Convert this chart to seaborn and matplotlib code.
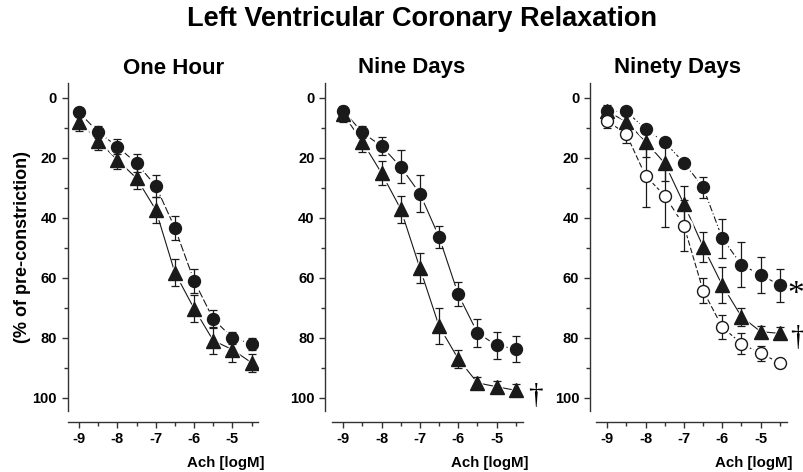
import matplotlib
matplotlib.use("Agg")
import matplotlib.pyplot as plt
import seaborn as sns
from matplotlib.ticker import MultipleLocator

sns.set_style("ticks")
plt.rcParams["font.family"] = ["Liberation Sans", "DejaVu Sans"]
plt.rcParams["font.weight"] = "bold"
plt.rcParams["axes.unicode_minus"] = False
plt.rcParams["text.color"] = "black"
plt.rcParams["axes.labelcolor"] = "black"
plt.rcParams["xtick.color"] = "black"
plt.rcParams["ytick.color"] = "black"

# concentrations of acetylcholine (log M)
ach = [-9, -8.5, -8, -7.5, -7, -6.5, -6, -5.5, -5, -4.5]

# One Hour
hour_circ = [4.8, 11.4, 16.2, 21.8, 29.3, 43.4, 61.0, 73.8, 80.1, 82.0]
hour_circ_err = [1.5, 2, 2.5, 3, 3.7, 4, 4, 3, 2, 2]
hour_tri = [7.9, 14.3, 20.7, 26.8, 37.3, 58.3, 70.3, 81.0, 84.0, 88.4]
hour_tri_err = [3, 3, 3, 3.5, 4.3, 4.5, 4.5, 4.5, 4, 3]

# Nine Days
nine_circ = [4.3, 11.5, 16.1, 23.0, 31.9, 46.4, 65.6, 78.4, 82.6, 83.8]
nine_circ_err = [1.5, 2, 3, 5.5, 6.3, 3.7, 4, 4.7, 4.5, 4.5]
nine_tri = [5.4, 14.6, 25.1, 37.1, 56.8, 76.2, 87.1, 95.1, 96.4, 97.6]
nine_tri_err = [2.5, 3.5, 4, 4.5, 5, 6, 3, 2, 2, 2]

# Ninety Days
ninety_circ = [4.5, 4.5, 10.4, 14.8, 21.6, 29.8, 46.8, 55.7, 59.0, 62.5]
ninety_circ_err = [1, 1, 1.5, 1.5, 1, 3.5, 6.5, 7.5, 6, 5.5]
ninety_tri = [4.5, 7.9, 14.6, 21.8, 35.4, 49.6, 62.5, 73.0, 78.0, 78.6]
ninety_tri_err = [2, 3, 5, 6, 6, 5, 6, 3, 2, 2]
ninety_open = [7.6, 12.1, 26.0, 32.6, 42.6, 64.3, 76.5, 82.0, 85.3, 88.4]
ninety_open_err = [2.5, 3, 10.5, 10.5, 8.5, 4.3, 4, 3.5, 2.5, 1]

titles = ["One Hour", "Nine Days", "Ninety Days"]
title_x = [174, 412, 678]

ink = "#1a1a1a"

panels = [
    [(hour_circ, hour_circ_err, "o", ink, (0, (7, 2))),
     (hour_tri, hour_tri_err, "^", ink, "-")],
    [(nine_circ, nine_circ_err, "o", ink, "-"),
     (nine_tri, nine_tri_err, "^", ink, "-")],
    [(ninety_circ, ninety_circ_err, "o", ink, (0, (6, 2, 1, 2))),
     (ninety_tri, ninety_tri_err, "^", ink, "-"),
     (ninety_open, ninety_open_err, "o", "white", (0, (5, 2)))],
]

fig = plt.figure(figsize=(8.04, 4.72), dpi=100)
W, H = 804, 472
lefts = [67.5, 331.7, 595.7]
yspine_off = [0, 4.8, 4.3]

for i, series in enumerate(panels):
    ax = fig.add_axes([lefts[i] / W, 1 - 411 / H, 191 / W, 328 / H])

    for vals, err, mk, fc, ls in series:
        sns.lineplot(x=ach, y=vals, ax=ax, color=ink, lw=0.8, linestyle=ls, zorder=1)
    for vals, err, mk, fc, ls in series:
        ms = 8.6 if mk == "o" else 9.8
        ax.plot(ach, vals, ls="none", marker=mk, ms=ms + 3.5, mfc="white", mec="white", zorder=2)
    for vals, err, mk, fc, ls in series:
        ax.errorbar(ach, vals, yerr=err, fmt="none", ecolor=ink, elinewidth=0.9,
                    capsize=3, capthick=0.9, zorder=3)
    for vals, err, mk, fc, ls in series:
        ms = 8.6 if mk == "o" else 9.8
        ax.plot(ach, vals, ls="none", marker=mk, ms=ms, mfc=fc, mec=ink, mew=1.0, zorder=4)

    ax.set_xlim(-9.3, -4.32)
    ax.set_ylim(104.5, -5)
    ax.xaxis.set_minor_locator(MultipleLocator(0.5))
    ax.yaxis.set_minor_locator(MultipleLocator(10))
    ax.set_xticks([-9, -8, -7, -6, -5])
    ax.set_xticklabels(["-9", "-8", "-7", "-6", "-5"])
    ax.set_yticks([0, 20, 40, 60, 80, 100])

    sns.despine(ax=ax)
    ax.spines["bottom"].set_position(("outward", 7.9))
    ax.spines["left"].set_position(("outward", yspine_off[i]))
    for s in ("left", "bottom"):
        ax.spines[s].set_linewidth(1.0)
        ax.spines[s].set_color("#333333")

    ax.tick_params(which="major", direction="out", length=4.5, width=1.0, color="#333333",
                   labelsize=10.5, pad=3)
    ax.tick_params(which="minor", direction="out", length=3, width=1.0, color="#333333")
    for lab in ax.get_xticklabels() + ax.get_yticklabels():
        lab.set_fontweight("bold")

    ax.set_xlabel("Ach [logM]", fontsize=10.8, fontweight="bold")
    ax.xaxis.set_label_coords(1.03, -0.138)
    ax.xaxis.label.set_horizontalalignment("right")
    if i == 0:
        ax.set_ylabel("(% of pre-constriction)", fontsize=13, fontweight="bold", labelpad=1)
    else:
        ax.set_ylabel("")

    fig.text(title_x[i] / W, 1 - 68 / H, titles[i], ha="center", va="center",
             fontsize=16, fontweight="bold")

# significance markers
serif = ["Liberation Serif", "DejaVu Serif"]
fig.axes[1].text(-4.0, 99.5, "\u2020", ha="center", va="center", fontsize=21,
                 fontweight="normal", family=serif, clip_on=False)
fig.axes[2].text(-4.08, 68.6, "*", ha="center", va="baseline", fontsize=24,
                 fontweight="normal", family=serif, clip_on=False)
fig.axes[2].text(-4.05, 80.0, "\u2020", ha="center", va="center", fontsize=21,
                 fontweight="normal", family=serif, clip_on=False)

fig.text(422 / W, 1 - 19 / H, "Left Ventricular Coronary Relaxation", ha="center", va="center",
         fontsize=19.5, fontweight="bold")

fig.savefig("out.png", dpi=100)
